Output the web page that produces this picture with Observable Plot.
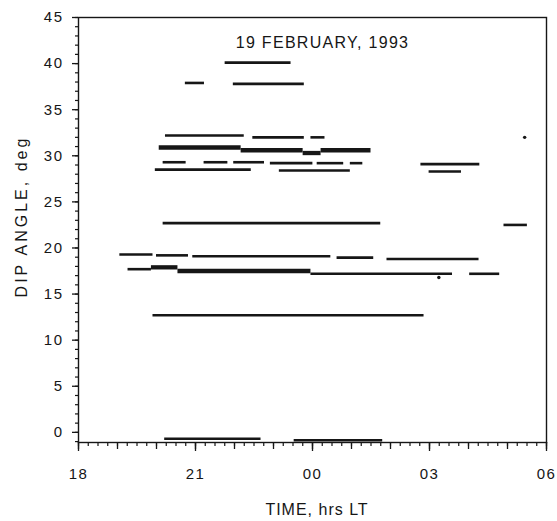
<!DOCTYPE html>
<html>
<head>
<meta charset="utf-8">
<script src="https://cdn.jsdelivr.net/npm/d3@7"></script>
<script src="https://cdn.jsdelivr.net/npm/@observablehq/plot@0.6"></script>
<style>
  body { margin: 0; background: #fff; }
  #chart svg { font-family: "Liberation Sans", Arial, sans-serif; }
</style>
</head>
<body>
<div id="chart"></div>
<script>
// ---- text ----
const title = "19 FEBRUARY, 1993";
const xLabel = "TIME, hrs LT";
const yLabel = "DIP ANGLE, deg";

// ---- tick values (hours after 18 LT counted past midnight: 24 = 00, 27 = 03, 30 = 06) ----
const xTickValues = [18, 21, 24, 27, 30];
const xHourTicks = [18, 19, 20, 21, 22, 23, 24, 25, 26, 27, 28, 29, 30];
const yTickValues = [0, 5, 10, 15, 20, 25, 30, 35, 40, 45];

// ---- observed segments: [start hour, end hour, dip angle in deg] ----
const thinSegments = [
  [21.76, 23.45, 40.1],
  [20.74, 21.23, 37.9],
  [21.97, 23.79, 37.8],
  [20.23, 22.25, 32.2],
  [22.47, 23.79, 32.0],
  [23.96, 24.32, 32.0],
  [20.17, 20.76, 29.3],
  [21.22, 21.83, 29.3],
  [21.98, 22.77, 29.3],
  [22.92, 24.01, 29.2],
  [24.12, 24.80, 29.2],
  [24.97, 25.29, 29.2],
  [19.97, 22.43, 28.5],
  [23.15, 24.97, 28.4],
  [26.78, 28.29, 29.1],
  [26.99, 27.82, 28.3],
  [20.17, 25.75, 22.7],
  [28.91, 29.51, 22.5],
  [19.06, 19.91, 19.3],
  [20.00, 20.82, 19.2],
  [20.93, 24.47, 19.1],
  [24.63, 25.57, 18.95],
  [25.91, 28.27, 18.8],
  [19.27, 19.87, 17.7],
  [23.96, 27.59, 17.2],
  [28.03, 28.80, 17.2],
  [19.91, 26.86, 12.7],
  [20.21, 22.68, -0.7],
  [23.53, 25.80, -0.85]
];
const thickSegments = [
  [20.07, 22.17, 30.9],
  [22.17, 23.76, 30.6],
  [23.76, 24.22, 30.3],
  [24.22, 25.50, 30.6],
  [19.87, 20.55, 17.9],
  [20.55, 23.96, 17.5]
];
const isolatedPoints = [
  [29.44, 32.0],
  [27.24, 16.8]
];

const ink = "#161616";

const plot = Plot.plot({
  width: 557,
  height: 521,
  marginLeft: 78,
  marginRight: 11,
  marginTop: 17,
  marginBottom: 79,
  style: { fontSize: "15px", color: ink, background: "#fff" },
  x: { domain: [18, 30], axis: null },
  y: { domain: [-1.1, 45], axis: null },
  marks: [
    // minor and major ticks
    Plot.axisX({ ticks: d3.range(18, 30.001, 0.25), tickSize: 4, text: null, label: null, stroke: ink, strokeWidth: 1.2 }),
    Plot.axisX({ ticks: xHourTicks, tickSize: 7, text: null, label: null, stroke: ink, strokeWidth: 1.3 }),
    Plot.axisX({
      ticks: xTickValues, tickSize: 9, tickPadding: 17, label: null, stroke: ink, strokeWidth: 1.3,
      tickFormat: d => String(d % 24).padStart(2, "0"), fontSize: 15
    }),
    Plot.axisY({ ticks: d3.range(-1, 45.001, 1), tickSize: 3, text: null, label: null, stroke: ink, strokeWidth: 1.2 }),
    Plot.axisY({ ticks: yTickValues, tickSize: 6, tickPadding: 9, label: null, stroke: ink, strokeWidth: 1.3, fontSize: 15 }),
    Plot.frame({ stroke: ink, strokeWidth: 1.4 }),
    // data
    Plot.ruleY(thinSegments, { x1: d => d[0], x2: d => d[1], y: d => d[2], stroke: ink, strokeWidth: 2.6 }),
    Plot.ruleY(thickSegments, { x1: d => d[0], x2: d => d[1], y: d => d[2], stroke: ink, strokeWidth: 4.3 }),
    Plot.dot(isolatedPoints, { x: d => d[0], y: d => d[1], r: 1.7, fill: ink, stroke: null }),
    // labels
    Plot.text([title], { text: d => d, frameAnchor: "top", textAnchor: "middle", dx: 10, dy: 25, lineAnchor: "middle", fontSize: 16, fill: ink }),
    Plot.text([xLabel], { text: d => d, frameAnchor: "bottom", textAnchor: "middle", dx: 4.5, dy: 67, lineAnchor: "middle", fontSize: 16, fill: ink }),
    Plot.text([yLabel], { text: d => d, frameAnchor: "left", textAnchor: "middle", rotate: -90, dx: -57, dy: -13.5, lineAnchor: "middle", fontSize: 16, fill: ink })
  ]
});
document.getElementById("chart").appendChild(plot);

// widen the lettering a little to match the scanned original
d3.select(plot).selectAll("text").each(function () {
  const t = this.textContent;
  let ls = 0;
  if (t === title) ls = 1.3;
  else if (t === xLabel) ls = 1;
  else if (t === yLabel) ls = 3;
  else if (/^\d+$/.test(t)) ls = 1.5;
  if (ls) this.style.letterSpacing = ls + "px";
});
</script>
</body>
</html>
